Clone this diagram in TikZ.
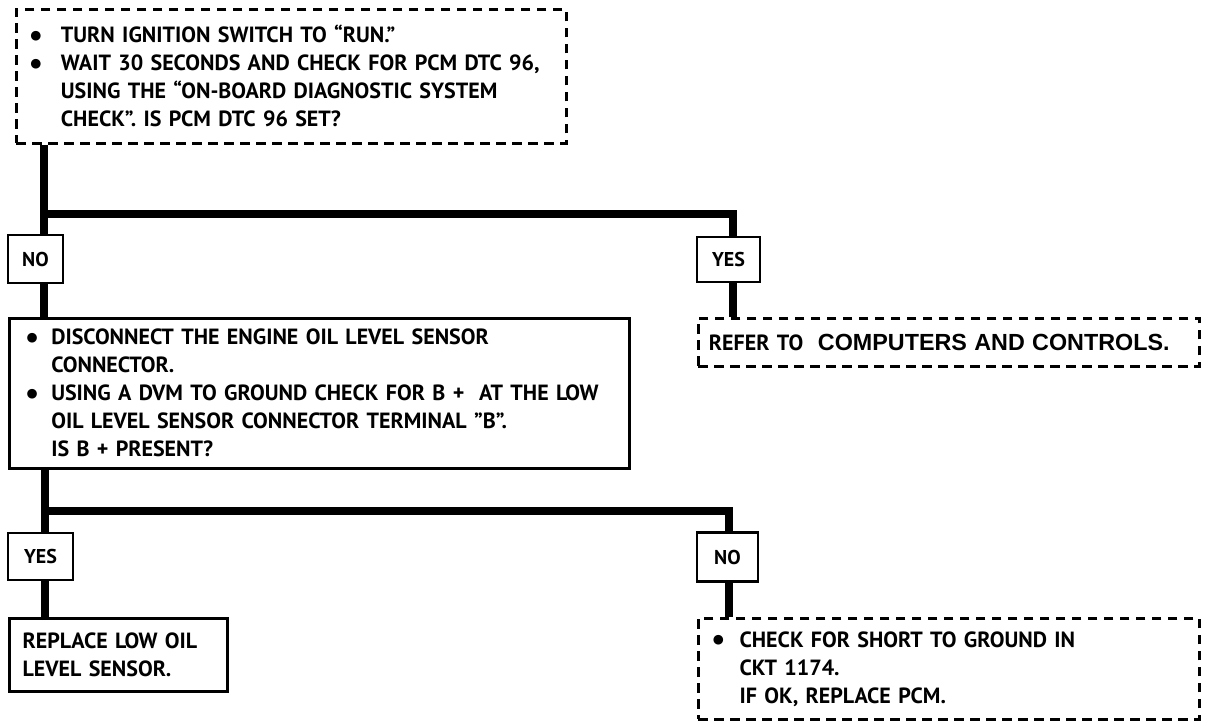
\documentclass[tikz,border=0pt]{standalone}
\usepackage{fontspec}
\setmainfont{PT Sans}
\newfontfamily\arialbold{Liberation Sans}
\newfontfamily\dotfont{DejaVu Sans}
\newlength{\bulw}
\newcommand{\bul}{\makebox[\bulw][l]{\raisebox{2.5pt}{\dotfont\fontsize{9.5}{10}\selectfont ●}}}
\newcommand{\ind}{\hspace*{\bulw}}
\tikzset{
	stepbox/.style = {draw=black, line width=1.9pt, anchor=north west, align=left,
		inner ysep=0pt, font=\bfseries\fontsize{16.5}{21}\selectfont},
	dashbox/.style = {stepbox, dash pattern=on 7pt off 5pt},
	answer/.style = {draw=black, line width=1.9pt, inner sep=0pt,
		font=\bfseries\fontsize{15}{16}\selectfont},
	link/.style = {line width=6pt, line join=miter}
}
\begin{document}
\begin{tikzpicture}[x=0.75pt, y=-0.75pt]
		\useasboundingbox (0,0) rectangle (1216,724);
		% questions and actions
		\node [dashbox, inner xsep=10.5pt, text width=391.5pt, minimum height=100.5pt] (run) at (15,8)
			{\setlength{\bulw}{23pt}\bul TURN IGNITION SWITCH TO “RUN.”\\
			 \bul WAIT 30 SECONDS AND CHECK FOR PCM DTC 96,\\
			 \ind USING THE “ON-BOARD DIAGNOSTIC SYSTEM\\
			 \ind CHECK”. IS PCM DTC 96 SET?};
		\node [stepbox, inner xsep=13pt, text width=439pt, minimum height=112.5pt] (sensor) at (8,317)
			{\setlength{\bulw}{18.5pt}\bul DISCONNECT THE ENGINE OIL LEVEL SENSOR\\
			 \ind CONNECTOR.\\
			 \bul USING A DVM TO GROUND CHECK FOR B +~ AT THE LOW\\
			 \ind OIL LEVEL SENSOR CONNECTOR TERMINAL ”B”.\\
			 \ind IS B + PRESENT?};
		\node [dashbox, inner xsep=8pt, text width=359.75pt, minimum height=36pt] (refer) at (697,317)
			{REFER TO~ {\arialbold\fontsize{17.5}{18}\selectfont COMPUTERS AND CONTROLS.}};
		\node [stepbox, inner xsep=10pt, text width=143.5pt, minimum height=54.75pt] (replace) at (8,617)
			{REPLACE LOW OIL\\ LEVEL SENSOR.};
		\node [dashbox, inner xsep=11pt, text width=353.75pt, minimum height=75.75pt] (check) at (697,617)
			{\setlength{\bulw}{20pt}\bul CHECK FOR SHORT TO GROUND IN\\
			 \ind CKT 1174.\\
			 \ind IF OK, REPLACE PCM.};
		% answers
		\node [answer, minimum width=41pt, minimum height=36pt] (noA) at (35.5,259) {NO};
		\node [answer, minimum width=47pt, minimum height=34pt] (yesA) at (728.5,259.5) {YES};
		\node [answer, minimum width=49pt, minimum height=35pt] (yesB) at (40.5,556.5) {YES};
		\node [answer, minimum width=46pt, minimum height=37pt] (noB) at (727.5,557) {NO};
		% branch points
		\coordinate (forkA) at (44,214);
		\coordinate (forkAr) at (733,214);
		\coordinate (forkB) at (45,511);
		\coordinate (forkBr) at (729,511);
		% connectors
		\draw [link] (run.south -| forkA) -- (noA.north -| forkA);
		\draw [link] (forkA) -- (forkAr) -- (yesA.north -| forkAr);
		\draw [link] (noA.south -| forkA) -- (sensor.north -| forkA);
		\draw [link] (yesA.south -| forkAr) -- (refer.north -| forkAr);
		\draw [link] (sensor.south -| forkB) -- (yesB.north -| forkB);
		\draw [link] (forkB) -- (forkBr) -- (noB.north -| forkBr);
		\draw [link] (yesB.south -| forkB) -- (replace.north -| forkB);
		\draw [link] (noB.south -| forkBr) -- (check.north -| forkBr);
\end{tikzpicture}
\end{document}
